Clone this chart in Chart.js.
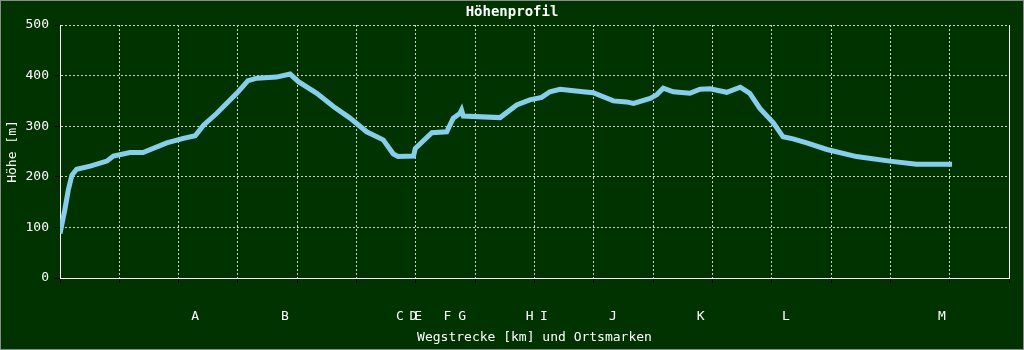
<!DOCTYPE html>
<html>
<head>
<meta charset="utf-8">
<script src="https://cdn.jsdelivr.net/npm/chart.js@4.4.1/dist/chart.umd.min.js"></script>
<style>
  html, body { margin: 0; padding: 0; background: #003300; }
  #wrap { width: 1024px; height: 350px; }
</style>
</head>
<body>
<div id="wrap"><canvas id="c" width="1024" height="350"></canvas></div>
<script>
// Distance along the route (x-axis units) and elevation (m)
const distance = [0, 0.08, 0.14, 0.2, 0.28, 0.51, 0.79, 0.9, 1.18, 1.4, 1.8, 2.08, 2.28, 2.42, 2.64, 2.98, 3.17, 3.32, 3.65, 3.88, 4.02, 4.33, 4.61, 4.89, 5.17, 5.45, 5.62, 5.7, 5.96, 5.99, 6.27, 6.52, 6.63, 6.74, 6.77, 6.8, 7.42, 7.7, 7.92, 8.12, 8.26, 8.43, 8.82, 8.99, 9.33, 9.55, 9.67, 9.95, 10.06, 10.17, 10.34, 10.62, 10.79, 10.96, 11.24, 11.47, 11.63, 11.8, 12.03, 12.19, 12.36, 12.59, 12.93, 13.43, 13.99, 14.44, 15.04];
const elevation = [88, 134, 174, 203, 215, 221, 231, 241, 248, 248, 267, 276, 281, 302, 325, 365, 390, 395, 397, 403, 388, 365, 339, 316, 289, 273, 245, 240, 241, 256, 287, 289, 316, 325, 332, 320, 317, 342, 352, 357, 368, 373, 368, 366, 350, 348, 345, 355, 362, 375, 368, 365, 373, 374, 367, 377, 365, 335, 306, 279, 275, 267, 254, 240, 231, 225, 225];

// Place markers (Ortsmarken)
const markLabels = ['A', 'B', 'C', 'D', 'E', 'F', 'G', 'H', 'I', 'J', 'K', 'L', 'M'];
const markKm = [2.28, 3.79, 5.73, 5.96, 6.04, 6.53, 6.78, 7.92, 8.16, 9.32, 10.80, 12.24, 14.87];

// Axis ranges / ticks
const xMin = 0, xMax = 16, xStep = 1;
const yMin = 0, yMax = 500, yStep = 100;

const MONO = "'DejaVu Sans Mono', 'Liberation Mono', monospace";
const GRID = '#d0d0d0';

const bgPlugin = {
  id: 'bg',
  beforeDraw(chart) {
    const ctx = chart.ctx;
    ctx.save();
    ctx.fillStyle = '#003300';
    ctx.fillRect(0, 0, chart.width, chart.height);
    ctx.strokeStyle = '#8c8c8c';
    ctx.lineWidth = 1;
    ctx.strokeRect(0.5, 0.5, chart.width - 1, chart.height - 1);
    ctx.restore();
  }
};

new Chart(document.getElementById('c'), {
  type: 'line',
  data: {
    datasets: [{
      data: distance.map((d, i) => ({ x: d, y: elevation[i] })),
      borderColor: '#87ceeb',
      borderWidth: 5,
      pointRadius: 0,
      tension: 0,
      fill: false
    }]
  },
  options: {
    responsive: false,
    animation: false,
    layout: { padding: 0 },
    plugins: {
      legend: { display: false },
      tooltip: { enabled: false },
      title: {
        display: true,
        text: 'Höhenprofil',
        color: '#ffffff',
        font: { family: MONO, size: 14, weight: 'bold', lineHeight: 1.2 },
        padding: { top: 4, bottom: 4.2 }
      }
    },
    scales: {
      x: {
        type: 'linear',
        position: 'bottom',
        weight: 0,
        min: xMin, max: xMax,
        ticks: { stepSize: xStep, callback: () => '', maxRotation: 0, autoSkip: false },
        grid: {
          color: GRID, lineWidth: 1,
          tickColor: '#000000', tickLength: 5, tickBorderDash: []
        },
        border: { color: '#ffffff', width: 1, dash: [2, 2] },
        afterFit(s) { s.height = 5; }
      },
      x2: {
        type: 'linear',
        position: 'bottom',
        weight: 1,
        min: xMin, max: xMax,
        afterBuildTicks(s) { s.ticks = markKm.map(v => ({ value: v })); },
        ticks: {
          callback: (v, i) => markLabels[i],
          autoSkip: false, maxRotation: 0, minRotation: 0,
          color: '#ffffff', padding: 26,
          font: { family: MONO, size: 13 }
        },
        grid: { display: false, drawTicks: false },
        border: { display: false },
        title: {
          display: true,
          text: 'Wegstrecke [km] und Ortsmarken',
          color: '#ffffff',
          font: { family: MONO, size: 13 },
          padding: { top: 0, bottom: 5 }
        },
        afterFit(s) { s.height = 67; }
      },
      y: {
        type: 'linear',
        position: 'left',
        min: yMin, max: yMax,
        ticks: { stepSize: yStep, color: '#ffffff', padding: 6, font: { family: MONO, size: 13 } },
        grid: {
          color: GRID, lineWidth: 1,
          tickColor: '#000000', tickLength: 5, tickBorderDash: []
        },
        border: { color: '#ffffff', width: 1, dash: [2, 2] },
        title: {
          display: true,
          text: 'Höhe [m]',
          color: '#ffffff',
          font: { family: MONO, size: 13 },
          padding: { top: 5, bottom: 0 }
        },
        afterFit(s) { s.width = 60; }
      },
      yR: {
        type: 'linear',
        position: 'right',
        min: yMin, max: yMax,
        ticks: { display: false },
        grid: { drawOnChartArea: false, drawTicks: false },
        border: { color: '#ffffff', width: 1 },
        afterFit(s) { s.width = 15; }
      }
    }
  },
  plugins: [bgPlugin]
});
</script>
</body>
</html>
